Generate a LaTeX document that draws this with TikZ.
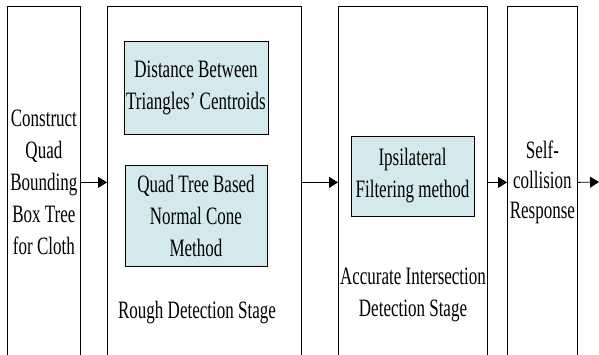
\documentclass[tikz,border=0pt]{standalone}
\usepackage{fontspec}
\setmainfont{Liberation Serif}[FakeStretch=0.68]
\usepackage{tikz}
\usetikzlibrary{arrows.meta}
\definecolor{lightcyan}{RGB}{211,233,238}

\begin{document}
\begin{tikzpicture}[x=1pt,y=1pt,
    stage/.style={draw=black, line width=0.8pt, anchor=north west, minimum height=352pt, inner sep=0pt, align=center},
    method/.style={draw=black, line width=0.8pt, fill=lightcyan, inner sep=0pt, align=center},
    caption/.style={inner sep=0pt, align=center},
    flow/.style={line width=0.8pt, -{Triangle[length=9pt,width=11pt]}}]
    \tikzset{every node/.append style={font=\fontsize{25}{32}\selectfont}}
    \useasboundingbox (0,0) rectangle (599,-355);
    \node [stage, minimum width=73pt] (build) at (7,-6) {Construct\\Quad\\Bounding\\Box Tree\\for Cloth};
    \node [stage, minimum width=194pt] (rough) at (107,-6) {};
    \node [stage, minimum width=149pt] (exact) at (338,-6) {};
    \node [stage, minimum width=70pt, font=\fontsize{25}{30}\selectfont] (resp) at (507,-6) {Self-\\collision\\Response};
    \node [method, minimum width=144pt, minimum height=93pt] (dist) at (196,-87.5) {Distance Between\\Triangles’ Centroids};
    \node [method, minimum width=142pt, minimum height=101pt] (cone) at (196,-215.5) {Quad Tree Based\\Normal Cone\\Method};
    \node [caption] (roughlbl) at (197,-313) {Rough Detection Stage};
    \node [method, minimum width=123pt, minimum height=80pt] (ipsi) at (412.5,-176) {Ipsilateral\\Filtering method};
    \node [caption] (exactlbl) at (413,-295) {Accurate Intersection\\Detection Stage};
    \coordinate (out) at (599,-182);
    \draw [flow] (build.east) -- (rough.west);
    \draw [flow] (rough.east) -- (exact.west);
    \draw [flow] (exact.east) -- (resp.west);
    \draw [flow] (resp.east) -- (out);
\end{tikzpicture}
\end{document}
